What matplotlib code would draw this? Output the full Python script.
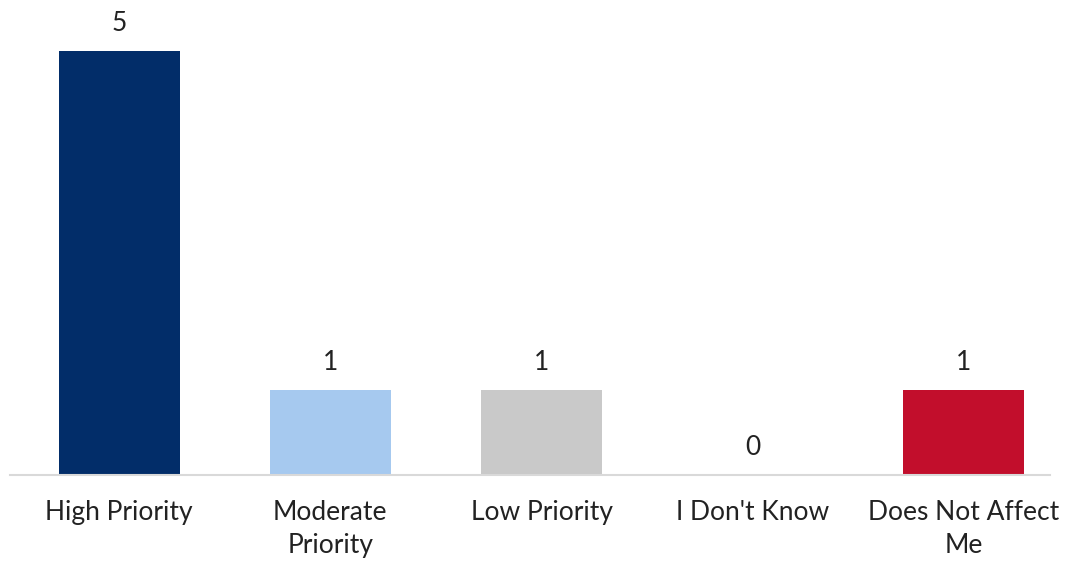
import matplotlib.pyplot as plt

categories = ["High Priority", "Moderate\nPriority", "Low Priority", "I Don't Know", "Does Not Affect\nMe"]
counts = [5, 1, 1, 0, 1]
bar_colors = ["#022D69", "#A6C9EF", "#C9C9C9", "#A0A0A0", "#C20E2C"]

plt.rcParams['font.family'] = ['Lato', 'DejaVu Sans']

fig = plt.figure(figsize=(10.83, 5.63), dpi=100)
ax = fig.add_axes([10 / 1083, 88 / 563, 1040 / 1083, 424 / 563])

x = list(range(len(categories)))
ax.bar(x, counts, width=0.574, color=bar_colors)

# value labels above bars
for xi, v in zip(x, counts):
    ax.annotate(str(v), (xi, v), xytext=(0, 20), textcoords="offset points",
                ha="center", va="center", fontsize=19, color="#222222",
                annotation_clip=False)

ax.set_xlim(-0.517, 4.408)
ax.set_ylim(0, 5)
ax.set_xticks(x)
ax.set_xticklabels(categories, fontsize=19, color="#222222", linespacing=1.4)
ax.tick_params(axis="x", length=0, pad=18)
ax.set_yticks([])

for side in ["top", "right", "left"]:
    ax.spines[side].set_visible(False)
ax.spines["bottom"].set_color("#D9D9D9")
ax.spines["bottom"].set_linewidth(1.5)

fig.savefig("out.png", dpi=100)
